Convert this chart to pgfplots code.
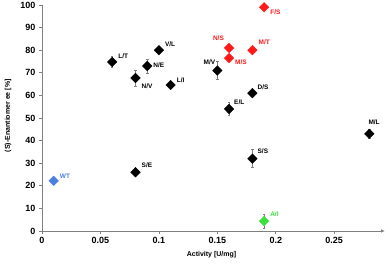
\documentclass[border=0pt]{standalone}
\usepackage{fontspec}
\setmainfont{Liberation Sans}
\usepackage{pgfplots}
\pgfplotsset{compat=1.18}
\usetikzlibrary{arrows.meta}
\definecolor{ptred}{HTML}{FF1A1A}
\definecolor{ptblue}{HTML}{4A7FE0}
\definecolor{ptgreen}{HTML}{3CE03C}
\definecolor{axgray}{HTML}{808080}
\begin{document}
\begin{tikzpicture}
\useasboundingbox (-42pt,-34pt) rectangle (349pt,231pt);
\begin{axis}[
  at={(0,0)}, anchor=origin,
  scale only axis,
  width=339pt, height=226pt,
  xmin=0, xmax=0.29, ymin=0, ymax=100,
  axis x line=bottom, axis y line=left,
  x axis line style={axgray, line width=0.8pt, -{Latex[length=4pt,width=3.5pt]}, shorten >=-4pt},
  y axis line style={axgray, line width=0.8pt, -},
  xtick={0,0.05,0.1,0.15,0.2,0.25},
  xticklabels={0,0.05,0.1,0.15,0.2,0.25},
  ytick={0,10,...,100},
  tick align=outside,
  major tick length=3pt,
  tick style={axgray, line width=0.6pt},
  /pgf/number format/assume math mode=true,
  tick label style={font=\fontsize{9}{10}\selectfont\bfseries},
  xlabel={Activity [U/mg]},
  ylabel={(S)-Enantiomer ee [\%]},
  label style={font=\fontsize{7}{8}\selectfont\bfseries},
  xlabel style={at={(axis description cs:0.5,0)}, anchor=north, yshift=-17pt},
  ylabel style={at={(axis description cs:-0.1003,0.51)}, anchor=center},
  clip=false,
  visualization depends on={value \thisrow{anc} \as \myanc},
  visualization depends on={value \thisrow{dx} \as \mydx},
  visualization depends on={value \thisrow{dy} \as \mydy},
  nodes near coords,
  point meta=explicit symbolic,
  every node near coord/.style={anchor=\myanc, xshift=\mydx pt, yshift=\mydy pt, font=\fontsize{6.5}{7}\selectfont\bfseries, inner sep=0pt},
  error bars/y dir=both, error bars/y explicit,
  error bars/error bar style={axgray, line width=0.5pt},
  error bars/error mark options={rotate=90, mark size=1.3pt, axgray, line width=0.5pt},
]
\addplot[only marks, mark=diamond*, mark size=4.8pt, mark options={xscale=1.33}, black, every node near coord/.append style={black}]
  table[x=x, y=y, y error=e, meta=lab] {
x y e lab anc dx dy
0.06 74.8 2.5 L/T west 6 6
0.08 67.7 3.5 N/V west 6 -8
0.09 73.0 3.2 N/E west 6 1
0.10 80.0 1.0 V/L west 6 6
0.11 64.6 1.0 L/I west 6 5
0.15 71.0 4.0 M/V east -2 8
0.16 54.0 3.0 E/L west 5 7
0.18 61.0 1.0 D/S west 5 6
0.08 26.0 1.0 S/E west 6 7
0.18 32.0 4.0 S/S west 5 7
0.28 43.0 2.0 M/L west -1 12
};
\addplot[only marks, mark=diamond*, mark size=4.8pt, mark options={xscale=1.33}, ptred, every node near coord/.append style={ptred}]
  table[x=x, y=y, y error=e, meta=lab] {
x y e lab anc dx dy
0.19 99.0 0.0 F/S west 6 -5
0.16 81.0 1.0 N/S east -5 10
0.16 76.5 1.0 M/S west 6 -4
0.18 80.0 1.0 M/T west 6 8
};
\addplot[only marks, mark=diamond*, mark size=4.8pt, mark options={xscale=1.33}, ptblue, every node near coord/.append style={ptblue}]
  table[x=x, y=y, y error=e, meta=lab] {
x y e lab anc dx dy
0.01 22.2 0.5 WT west 6 5
};
\addplot[only marks, mark=diamond*, mark size=4.8pt, mark options={xscale=1.33}, ptgreen, every node near coord/.append style={ptgreen}]
  table[x=x, y=y, y error=e, meta=lab] {
x y e lab anc dx dy
0.19 4.4 3.0 A/I west 6 7
};
\end{axis}
\end{tikzpicture}
\end{document}
